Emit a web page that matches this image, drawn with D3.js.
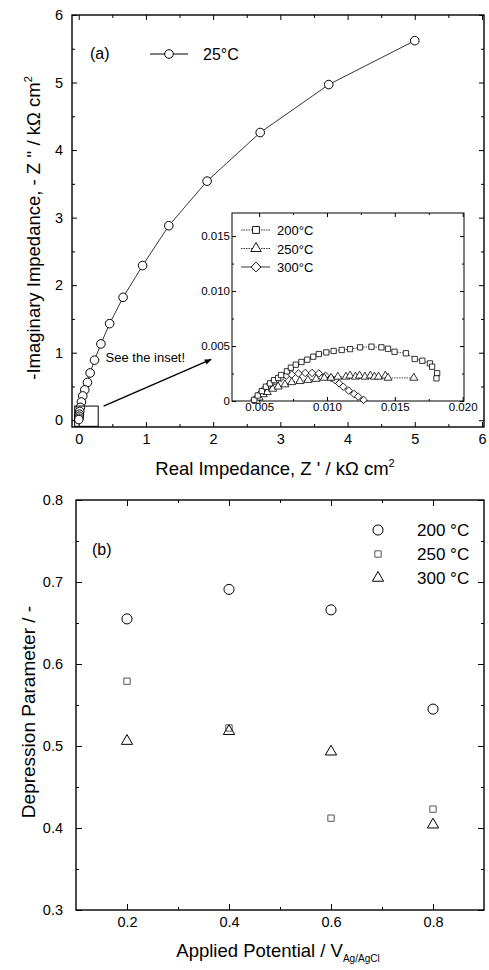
<!DOCTYPE html>
<html>
<head>
<meta charset="utf-8">
<script src="https://cdn.jsdelivr.net/npm/d3@7/dist/d3.min.js"></script>
<style>
    body { margin: 0; background: #fff; }
    svg { display: block; }
    text { font-family: "Liberation Sans", Arial, sans-serif; fill: #000; }
</style>
</head>
<body>
<div id="container"></div>
<script>
'use strict';

// (a) Nyquist plot at 25 C : [Z', -Z''] in kOhm cm2
const z25 = [
    [5.00, 5.62], [3.72, 4.97], [2.70, 4.26], [1.91, 3.54], [1.34, 2.88],
    [0.95, 2.29], [0.66, 1.82], [0.46, 1.43], [0.33, 1.13], [0.235, 0.89],
    [0.17, 0.70], [0.13, 0.56], [0.09, 0.45], [0.06, 0.36], [0.04, 0.27],
    [0.025, 0.19], [0.015, 0.13], [0.01, 0.09], [0.006, 0.06], [0.003, 0.03], [0.0, 0.01]
];

// inset, high temperatures
const z200 = [
    [0.00464, 0.0001], [0.0049, 0.0005], [0.0052, 0.0009], [0.0055, 0.0013], [0.0058, 0.0016],
    [0.0061, 0.0019], [0.0064, 0.0021], [0.00662, 0.00236], [0.00705, 0.0027], [0.00734, 0.00303],
    [0.0077, 0.0033], [0.00812, 0.00355], [0.00855, 0.00376], [0.00899, 0.00403], [0.0094, 0.00427],
    [0.00995, 0.00442], [0.01049, 0.00455], [0.01109, 0.00464], [0.0117, 0.00472], [0.01244, 0.00488],
    [0.01328, 0.00494], [0.01401, 0.00488], [0.0145, 0.00475], [0.01498, 0.00448], [0.01582, 0.00434],
    [0.01647, 0.00382], [0.01703, 0.00366], [0.01759, 0.00342], [0.01775, 0.00312], [0.01812, 0.00252],
    [0.01807, 0.00206]
];
const z250 = [
    [0.0048, 0.0], [0.005, 0.0003], [0.0053, 0.0006], [0.0056, 0.0008], [0.006, 0.0011],
    [0.0064, 0.0013], [0.0069, 0.0015], [0.0074, 0.0017], [0.008, 0.0018], [0.0086, 0.0019],
    [0.0092, 0.002], [0.0098, 0.0021], [0.0103, 0.0021], [0.0108, 0.0022], [0.0114, 0.0022],
    [0.0117, 0.0023], [0.0121, 0.0022], [0.0124, 0.0023], [0.0128, 0.0022], [0.0132, 0.0023],
    [0.0135, 0.0022], [0.0138, 0.0022], [0.0143, 0.0023], [0.0145, 0.0021], [0.0164, 0.0021]
];
const z300 = [
    [0.00465, 0.0001], [0.0049, 0.0004], [0.0051, 0.0007], [0.0053, 0.001], [0.0056, 0.0013],
    [0.0059, 0.0016], [0.0062, 0.0018], [0.0066, 0.0021], [0.007, 0.0023], [0.0074, 0.0024],
    [0.0079, 0.0025], [0.0084, 0.00255], [0.0089, 0.00255], [0.0094, 0.0025], [0.0099, 0.0023],
    [0.0103, 0.0021], [0.0106, 0.0019], [0.0109, 0.0016], [0.0112, 0.0013], [0.0116, 0.00094],
    [0.012, 0.00064], [0.0123, 0.0004], [0.0127, 0.0001]
];

// (b) depression parameter vs applied potential
const potential = [0.2, 0.4, 0.6, 0.8];
const dp200 = [0.655, 0.691, 0.666, 0.545];
const dp250 = [0.579, 0.522, 0.412, 0.423];
const dp300 = [0.506, 0.518, 0.493, 0.404];

// ticks
const ticksA = [0, 1, 2, 3, 4, 5, 6];
const minorA = [0.5, 1.5, 2.5, 3.5, 4.5, 5.5];
const insetXTicks = [0.005, 0.010, 0.015, 0.020];
const insetXMinor = [0.0075, 0.0125, 0.0175];
const insetYTicks = [0, 0.005, 0.010, 0.015];
const insetYMinor = [0.0025, 0.0075, 0.0125];
const xTicksB = [0.2, 0.4, 0.6, 0.8];
const xMinorB = [0.3, 0.5, 0.7];
const yTicksB = [0.3, 0.4, 0.5, 0.6, 0.7, 0.8];
const yMinorB = [0.35, 0.45, 0.55, 0.65, 0.75];

// annotation in (a), in data units
const zoomBox = [[-0.06, -0.09], [0.29, 0.21]];
const arrowLine = [[0.37, 0.21], [1.97, 0.90]];
const noteAt = [0.40, 0.86];

const svg = d3.select('#container')
    .append('svg')
    .attr('width', 489)
    .attr('height', 970);

svg.append('defs').append('marker')
    .attr('id', 'arrow')
    .attr('viewBox', '0 0 10 10')
    .attr('refX', 9).attr('refY', 5)
    .attr('markerWidth', 9).attr('markerHeight', 7)
    .attr('markerUnits', 'userSpaceOnUse')
    .attr('orient', 'auto')
    .append('path')
    .attr('d', 'M0,1 L10,5 L0,9 Z')
    .attr('fill', '#000');

function sym(type, size) {
    return d3.symbol().type(type).size(size)();
}

function ticks(g, axisFn, scale, at, values, size, fmt, fs, pad) {
    const ax = axisFn(scale)
        .tickValues(values)
        .tickSizeInner(-size)
        .tickSizeOuter(0)
        .tickPadding(pad)
        .tickFormat(fmt || (() => ''));
    const a = g.append('g').attr('transform', at).call(ax);
    a.attr('font-family', null).attr('font-size', fs);
    a.select('.domain').remove();
    a.selectAll('line').attr('stroke-width', 1);
}

function drawFrame(g, x, y, o) {
    const [xl, xr] = x.range();
    const [yb, yt] = y.range();
    g.append('rect')
        .attr('x', xl).attr('y', yt)
        .attr('width', xr - xl).attr('height', yb - yt)
        .attr('fill', o.fill || 'none')
        .attr('stroke', '#000')
        .attr('stroke-width', o.sw);

    ticks(g, d3.axisBottom, x, `translate(0,${yb})`, o.xMajor, o.major, o.xFmt, o.fs, o.padX);
    ticks(g, d3.axisBottom, x, `translate(0,${yb})`, o.xMinor, o.minor, null, o.fs, 0);
    ticks(g, d3.axisTop, x, `translate(0,${yt})`, o.xMajor, o.major, null, o.fs, 0);
    ticks(g, d3.axisTop, x, `translate(0,${yt})`, o.xMinor, o.minor, null, o.fs, 0);
    ticks(g, d3.axisLeft, y, `translate(${xl},0)`, o.yMajor, o.major, o.yFmt, o.fs, o.padY);
    ticks(g, d3.axisLeft, y, `translate(${xl},0)`, o.yMinor, o.minor, null, o.fs, 0);
    ticks(g, d3.axisRight, y, `translate(${xr},0)`, o.yMajor, o.major, null, o.fs, 0);
    ticks(g, d3.axisRight, y, `translate(${xr},0)`, o.yMinor, o.minor, null, o.fs, 0);
}

///////// (a)

const xA = d3.scaleLinear().domain([-0.1, 6.03]).range([72, 484]);
const yA = d3.scaleLinear().domain([-0.1, 6]).range([427, 15]);
const gA = svg.append('g');

drawFrame(gA, xA, yA, {
    xMajor: ticksA, xMinor: minorA, yMajor: ticksA, yMinor: minorA,
    xFmt: d3.format('d'), yFmt: d3.format('d'),
    major: 5, minor: 3, fs: 14.5, padX: 7, padY: 9, sw: 1.4
});

gA.append('path')
    .datum(z25)
    .attr('d', d3.line().x(d => xA(d[0])).y(d => yA(d[1])))
    .attr('fill', 'none')
    .attr('stroke', '#000')
    .attr('stroke-width', 0.8);

gA.selectAll('.c25')
    .data(z25)
    .join('circle')
    .attr('cx', d => xA(d[0]))
    .attr('cy', d => yA(d[1]))
    .attr('r', 4.3)
    .attr('fill', '#fff')
    .attr('stroke', '#000')
    .attr('stroke-width', 1);

gA.append('rect')
    .attr('x', xA(zoomBox[0][0]))
    .attr('y', yA(zoomBox[1][1]))
    .attr('width', xA(zoomBox[1][0]) - xA(zoomBox[0][0]))
    .attr('height', yA(zoomBox[0][1]) - yA(zoomBox[1][1]))
    .attr('fill', 'none')
    .attr('stroke', '#000')
    .attr('stroke-width', 1);

gA.append('line')
    .attr('x1', xA(arrowLine[0][0])).attr('y1', yA(arrowLine[0][1]))
    .attr('x2', xA(arrowLine[1][0])).attr('y2', yA(arrowLine[1][1]))
    .attr('stroke', '#000')
    .attr('stroke-width', 1.4)
    .attr('marker-end', 'url(#arrow)');

gA.append('text')
    .attr('x', xA(noteAt[0]))
    .attr('y', yA(noteAt[1]))
    .attr('font-size', 13)
    .text('See the inset!');

// legend (a)
gA.append('text').attr('x', 90).attr('y', 59).attr('font-size', 16).text('(a)');
gA.append('line')
    .attr('x1', 150).attr('x2', 188).attr('y1', 54).attr('y2', 54)
    .attr('stroke', '#000').attr('stroke-width', 1);
gA.append('circle')
    .attr('cx', 169).attr('cy', 54).attr('r', 4.3)
    .attr('fill', '#fff').attr('stroke', '#000');
gA.append('text').attr('x', 203).attr('y', 60).attr('font-size', 16).text('25°C');

// axis titles (a)
const xTitleA = gA.append('text')
    .attr('x', 275).attr('y', 475)
    .attr('text-anchor', 'middle')
    .attr('font-size', 18.5);
xTitleA.append('tspan').text("Real Impedance, Z ' / kΩ cm");
xTitleA.append('tspan').attr('font-size', 11).attr('dy', -8).text('2');

const yTitleA = gA.append('text')
    .attr('transform', 'translate(40,228) rotate(-90)')
    .attr('text-anchor', 'middle')
    .attr('font-size', 18.5);
yTitleA.append('tspan').text("-Imaginary Impedance, - Z '' / kΩ cm");
yTitleA.append('tspan').attr('font-size', 11).attr('dy', -8).text('2');

///////// inset

const xI = d3.scaleLinear().domain([0.003, 0.0201]).range([232, 464]);
const yI = d3.scaleLinear().domain([0, 0.0171]).range([401, 213]);
const gI = svg.append('g');

drawFrame(gI, xI, yI, {
    xMajor: insetXTicks, xMinor: insetXMinor, yMajor: insetYTicks, yMinor: insetYMinor,
    xFmt: d3.format('.3f'), yFmt: d => d === 0 ? '0' : d3.format('.3f')(d),
    major: 4, minor: 2, fs: 11.5, padX: 2, padY: 2, sw: 1, fill: '#fff'
});

const insetSeries = [
    {data: z300, shape: sym(d3.symbolSquare, 28), rot: 45, dash: null, label: '300°C'},
    {data: z250, shape: sym(d3.symbolTriangle, 28), rot: 0, dash: '1.5,1', label: '250°C'},
    {data: z200, shape: sym(d3.symbolSquare, 28), rot: 0, dash: '1.5,1', label: '200°C'}
];

insetSeries.forEach(s => {
    gI.append('path')
        .datum(s.data)
        .attr('d', d3.line().x(d => xI(d[0])).y(d => yI(d[1])))
        .attr('fill', 'none')
        .attr('stroke', '#000')
        .attr('stroke-width', 0.7)
        .attr('stroke-dasharray', s.dash);
    gI.append('g')
        .selectAll('path')
        .data(s.data)
        .join('path')
        .attr('d', s.shape)
        .attr('transform', d => `translate(${xI(d[0])},${yI(d[1])}) rotate(${s.rot})`)
        .attr('fill', '#fff')
        .attr('stroke', '#000')
        .attr('stroke-width', 0.8);
});

// inset legend, 200 on top
insetSeries.slice().reverse().forEach((s, i) => {
    const ly = 230 + i * 18.5;
    gI.append('line')
        .attr('x1', 241).attr('x2', 270).attr('y1', ly).attr('y2', ly)
        .attr('stroke', '#000').attr('stroke-width', 0.8)
        .attr('stroke-dasharray', s.dash);
    gI.append('path')
        .attr('d', s.shape)
        .attr('transform', `translate(256,${ly}) rotate(${s.rot}) scale(1.3)`)
        .attr('fill', '#fff').attr('stroke', '#000').attr('stroke-width', 0.7);
    gI.append('text')
        .attr('x', 277).attr('y', ly + 5)
        .attr('font-size', 13)
        .text(s.label);
});

///////// (b)

const xB = d3.scaleLinear().domain([0.1, 0.9]).range([76, 484]);
const yB = d3.scaleLinear().domain([0.3, 0.8]).range([910, 500]);
const gB = svg.append('g');

drawFrame(gB, xB, yB, {
    xMajor: xTicksB, xMinor: xMinorB, yMajor: yTicksB, yMinor: yMinorB,
    xFmt: d3.format('.1f'), yFmt: d3.format('.1f'),
    major: 6, minor: 3, fs: 14.5, padX: 7, padY: 13, sw: 1.4
});

const seriesB = [
    {values: dp200, shape: sym(d3.symbolCircle, 80), label: '200 °C', stroke: '#000'},
    {values: dp250, shape: sym(d3.symbolSquare, 40), label: '250 °C', stroke: '#555'},
    {values: dp300, shape: sym(d3.symbolTriangle, 55), label: '300 °C', stroke: '#000'}
];

seriesB.forEach((s, i) => {
    gB.append('g')
        .selectAll('path')
        .data(potential)
        .join('path')
        .attr('d', s.shape)
        .attr('transform', (d, j) => `translate(${xB(d)},${yB(s.values[j])})`)
        .attr('fill', 'none')
        .attr('stroke', s.stroke)
        .attr('stroke-width', 1);

    const ly = 530 + i * 24;
    gB.append('path')
        .attr('d', s.shape)
        .attr('transform', `translate(378,${ly})`)
        .attr('fill', 'none')
        .attr('stroke', s.stroke)
        .attr('stroke-width', 1);
    gB.append('text')
        .attr('x', 417).attr('y', ly + 6)
        .attr('font-size', 17)
        .text(s.label);
});

gB.append('text').attr('x', 92).attr('y', 555).attr('font-size', 16).text('(b)');

const xTitleB = gB.append('text')
    .attr('x', 278).attr('y', 957)
    .attr('text-anchor', 'middle')
    .attr('font-size', 18.5);
xTitleB.append('tspan').text('Applied Potential / V');
xTitleB.append('tspan').attr('font-size', 10).attr('dy', 5).text('Ag/AgCl');

gB.append('text')
    .attr('transform', 'translate(35,712) rotate(-90)')
    .attr('text-anchor', 'middle')
    .attr('font-size', 19)
    .text('Depression Parameter / -');
</script>
</body>
</html>
